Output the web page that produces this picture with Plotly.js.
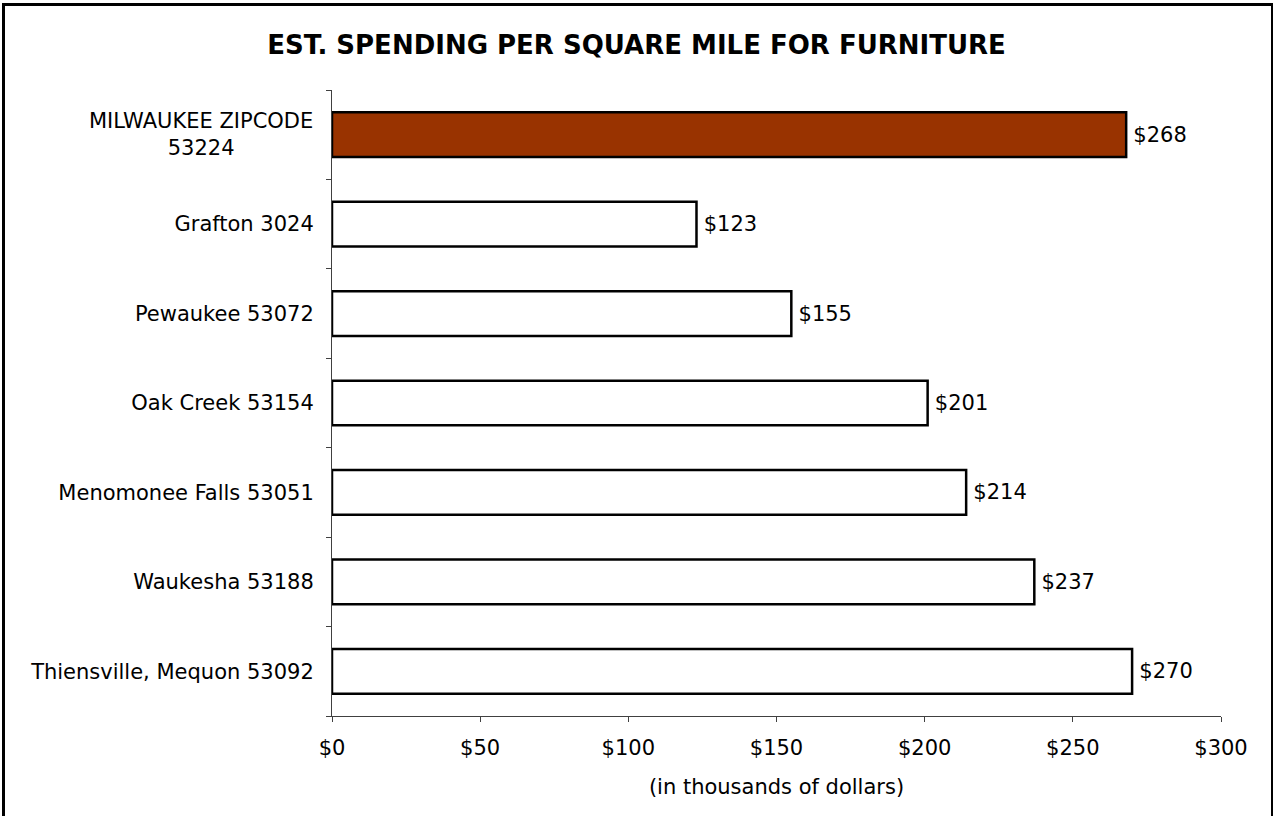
<!DOCTYPE html>
<html>
<head>
<meta charset="utf-8">
<script src="https://cdn.plot.ly/plotly-3.0.1.min.js"></script>
<style>
  html, body { margin: 0; padding: 0; background: #fff; }
  #wrap { position: relative; width: 1273px; height: 816px; }
  #chart { position: absolute; left: 0; top: 0; width: 1273px; height: 816px; }
  #frame { position: absolute; left: 2px; top: 3px; width: 1266px; height: 811px;
           border-left: 3px solid #000; border-top: 3px solid #000; border-right: 3px solid #000;
           border-bottom: 1px solid #bbb; pointer-events: none; }
</style>
</head>
<body>
<div id="wrap">
  <div id="chart"></div>
  <div id="frame"></div>
</div>
<script>
const categories = [
  "MILWAUKEE ZIPCODE 53224",
  "Grafton 3024",
  "Pewaukee 53072",
  "Oak Creek 53154",
  "Menomonee Falls 53051",
  "Waukesha 53188",
  "Thiensville, Mequon 53092"
];
const tickLabels = [
  "",
  "Grafton 3024",
  "Pewaukee 53072",
  "Oak Creek 53154",
  "Menomonee Falls 53051",
  "Waukesha 53188",
  "Thiensville, Mequon 53092"
];
const highlightLabel = "MILWAUKEE ZIPCODE<br>53224";
const values = [268, 123, 155, 201, 214, 237, 270];
const xTicks = [0, 50, 100, 150, 200, 250, 300];

const FONT = "DejaVu Sans, Verdana, sans-serif";
const FS = 21;
const fills = categories.map((c, i) => i === 0 ? "#993300" : "#ffffff");

const trace = {
  type: "bar",
  orientation: "h",
  y: categories,
  x: values,
  marker: { color: fills, line: { color: "#000000", width: 2.5 } },
  texttemplate: "\u2009$%{x}",
  textposition: "outside",
  cliponaxis: false,
  textfont: { family: FONT, size: FS, color: "#000" },
  hoverinfo: "skip"
};

const layout = {
  width: 1273,
  height: 816,
  paper_bgcolor: "#ffffff",
  plot_bgcolor: "#ffffff",
  margin: { l: 332, r: 52, t: 90, b: 100 },
  showlegend: false,
  bargap: 0.5,
  font: { family: FONT, size: FS, color: "#000" },
  title: {
    text: "<b>EST. SPENDING PER SQUARE MILE FOR FURNITURE</b>",
    font: { family: FONT, size: 26, color: "#000" },
    x: 0.5, xref: "container", xanchor: "center",
    y: 1 - 45 / 816, yref: "container", yanchor: "middle"
  },
  xaxis: {
    range: [0, 300],
    tickvals: xTicks,
    ticktext: xTicks.map(v => "$" + v),
    ticks: "outside",
    ticklen: 5,
    tickcolor: "#404040",
    showline: true,
    linecolor: "#404040",
    linewidth: 1,
    showgrid: false,
    zeroline: false,
    ticklabelstandoff: 8,
    tickfont: { family: FONT, size: FS, color: "#000" },
    title: { text: "(in thousands of dollars)", font: { family: FONT, size: FS, color: "#000" }, standoff: 20 }
  },
  yaxis: {
    type: "category",
    categoryorder: "array",
    categoryarray: categories,
    tickvals: categories,
    ticktext: tickLabels,
    autorange: "reversed",
    ticks: "outside",
    tickson: "boundaries",
    ticklen: 5,
    tickcolor: "#404040",
    showline: true,
    linecolor: "#404040",
    linewidth: 1,
    showgrid: false,
    zeroline: false,
    ticklabelstandoff: 13,
    tickfont: { family: FONT, size: FS, color: "#000" }
  },
  annotations: [{
    xref: "paper", x: 0, xanchor: "right", xshift: -17,
    yref: "y", y: categories[0], yanchor: "middle",
    text: highlightLabel, align: "center", showarrow: false,
    font: { family: FONT, size: FS, color: "#000" }
  }]
};

Plotly.newPlot("chart", [trace], layout, { displayModeBar: false, staticPlot: true });
</script>
</body>
</html>
